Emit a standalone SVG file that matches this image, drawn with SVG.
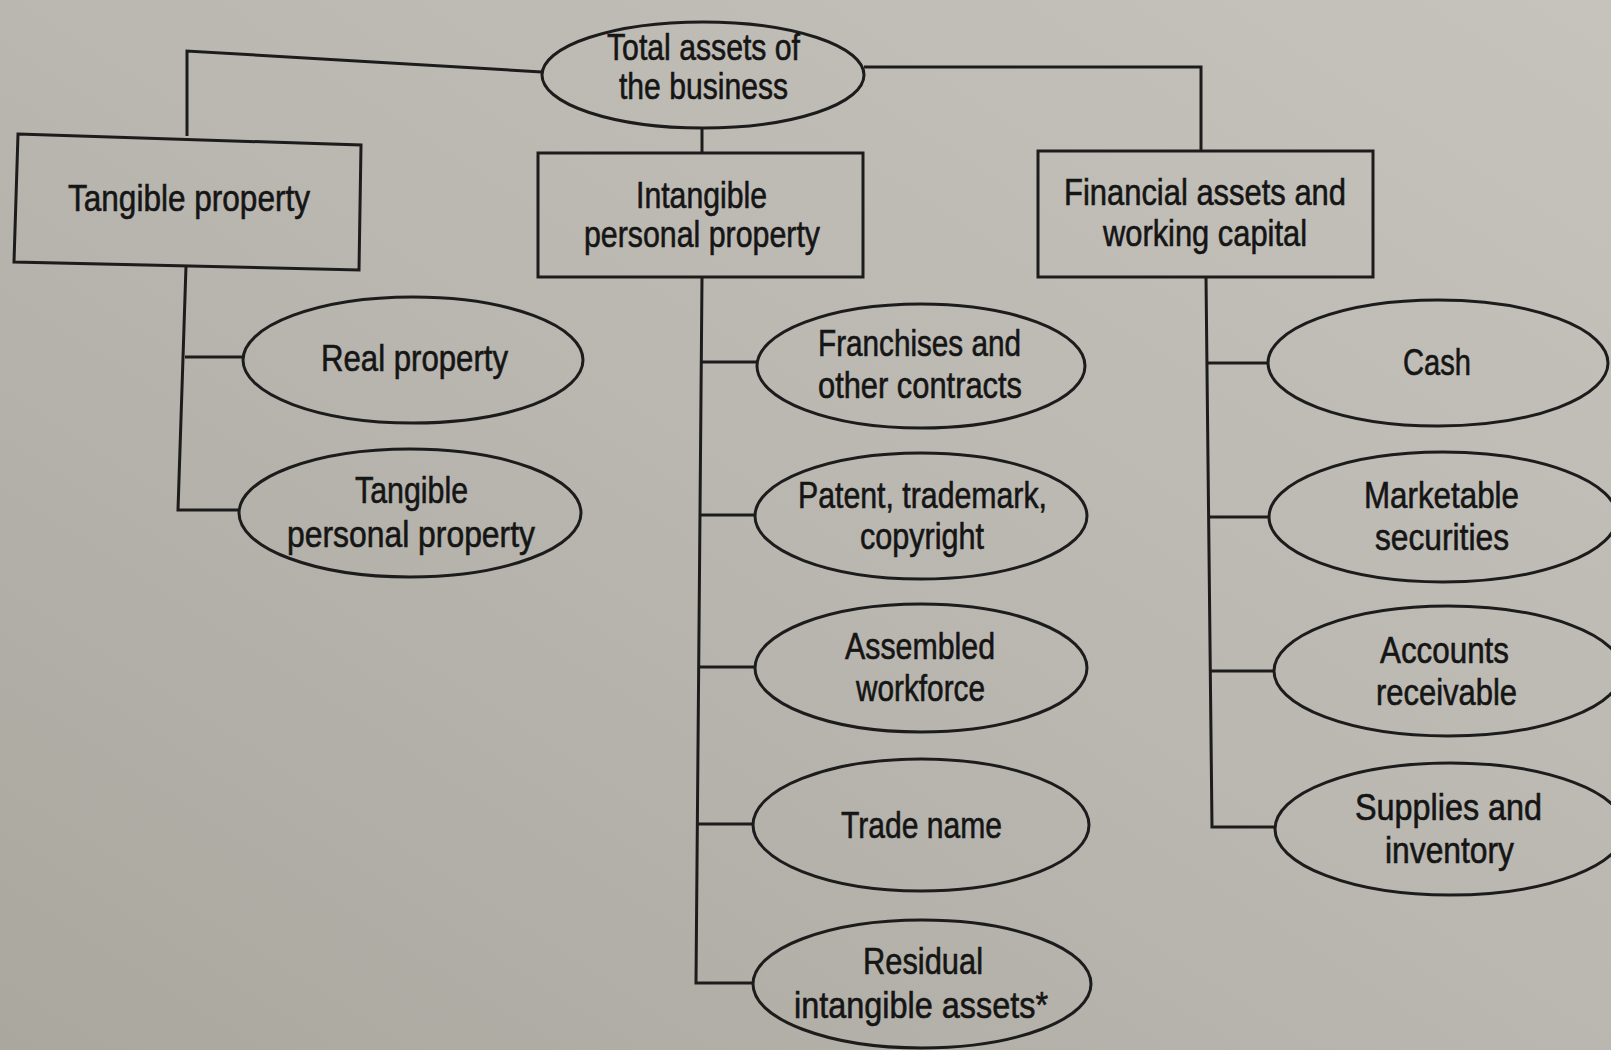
<svg xmlns="http://www.w3.org/2000/svg" width="1611" height="1050" viewBox="0 0 1611 1050">
  <defs>
    <linearGradient id="paper" x1="1" y1="0" x2="0" y2="1">
      <stop offset="0" stop-color="#c6c3bc"/>
      <stop offset="0.5" stop-color="#bab7b0"/>
      <stop offset="1" stop-color="#aaa79f"/>
    </linearGradient>
  </defs>
  <style>
    .shape { fill: none; stroke: #1c1c1c; stroke-width: 3; }
    .conn { fill: none; stroke: #1c1c1c; stroke-width: 3; stroke-linejoin: miter; }
    .lbl { font-family: "Liberation Sans Narrow", "Liberation Sans", Arial, sans-serif; font-size: 36px; fill: #151515; stroke: #151515; stroke-width: 0.6px; }
  </style>
  <rect x="0" y="0" width="1611" height="1050" fill="url(#paper)"/>

  <g id="connectors">
    <polyline class="conn" points="542,72 187,51 187,136"/>
    <polyline class="conn" points="864,67 1201,67 1201,152"/>
    <line class="conn" x1="702" y1="129" x2="702" y2="154"/>
    <polyline class="conn" points="186,266 178,510 239,510"/>
    <line class="conn" x1="185" y1="357" x2="243" y2="357"/>
    <polyline class="conn" points="702,278 696,983 753,983"/>
    <line class="conn" x1="701" y1="362" x2="757" y2="362"/>
    <line class="conn" x1="700" y1="515" x2="755" y2="515"/>
    <line class="conn" x1="699" y1="667" x2="755" y2="667"/>
    <line class="conn" x1="698" y1="824" x2="753" y2="824"/>
    <polyline class="conn" points="1206,277 1212,827 1276,827"/>
    <line class="conn" x1="1207" y1="363" x2="1268" y2="363"/>
    <line class="conn" x1="1209" y1="517" x2="1269" y2="517"/>
    <line class="conn" x1="1210" y1="671" x2="1274" y2="671"/>
  </g>

  <g id="total-assets">
    <ellipse class="shape" cx="703" cy="75" rx="161" ry="53"/>
    <text class="lbl" x="607" y="60" textLength="193" lengthAdjust="spacingAndGlyphs">Total assets of</text>
    <text class="lbl" x="619" y="99" textLength="169" lengthAdjust="spacingAndGlyphs">the business</text>
  </g>

  <g id="tangible-property">
    <polygon class="shape" points="18,134 361,145 359,270 14,262"/>
    <text class="lbl" x="68" y="211" textLength="242" lengthAdjust="spacingAndGlyphs">Tangible property</text>
  </g>

  <g id="intangible-personal-property">
    <rect class="shape" x="538" y="153" width="325" height="124"/>
    <text class="lbl" x="636" y="208" textLength="131" lengthAdjust="spacingAndGlyphs">Intangible</text>
    <text class="lbl" x="584" y="247" textLength="236" lengthAdjust="spacingAndGlyphs">personal property</text>
  </g>

  <g id="financial-assets">
    <rect class="shape" x="1038" y="151" width="335" height="126"/>
    <text class="lbl" x="1064" y="205" textLength="282" lengthAdjust="spacingAndGlyphs">Financial assets and</text>
    <text class="lbl" x="1103" y="246" textLength="204" lengthAdjust="spacingAndGlyphs">working capital</text>
  </g>

  <g id="real-property">
    <ellipse class="shape" cx="413" cy="360" rx="170" ry="63"/>
    <text class="lbl" x="321" y="371" textLength="187" lengthAdjust="spacingAndGlyphs">Real property</text>
  </g>

  <g id="tangible-personal-property">
    <ellipse class="shape" cx="410" cy="513" rx="171" ry="64"/>
    <text class="lbl" x="355" y="503" textLength="113" lengthAdjust="spacingAndGlyphs">Tangible</text>
    <text class="lbl" x="287" y="547" textLength="248" lengthAdjust="spacingAndGlyphs">personal property</text>
  </g>

  <g id="franchises">
    <ellipse class="shape" cx="921" cy="366" rx="164" ry="62"/>
    <text class="lbl" x="818" y="356" textLength="203" lengthAdjust="spacingAndGlyphs">Franchises and</text>
    <text class="lbl" x="818" y="398" textLength="204" lengthAdjust="spacingAndGlyphs">other contracts</text>
  </g>

  <g id="patent">
    <ellipse class="shape" cx="921" cy="516" rx="166" ry="63"/>
    <text class="lbl" x="798" y="508" textLength="249" lengthAdjust="spacingAndGlyphs">Patent, trademark,</text>
    <text class="lbl" x="860" y="549" textLength="124" lengthAdjust="spacingAndGlyphs">copyright</text>
  </g>

  <g id="assembled-workforce">
    <ellipse class="shape" cx="921" cy="668" rx="166" ry="64"/>
    <text class="lbl" x="845" y="659" textLength="150" lengthAdjust="spacingAndGlyphs">Assembled</text>
    <text class="lbl" x="856" y="701" textLength="129" lengthAdjust="spacingAndGlyphs">workforce</text>
  </g>

  <g id="trade-name">
    <ellipse class="shape" cx="921" cy="825" rx="168" ry="66"/>
    <text class="lbl" x="841" y="838" textLength="161" lengthAdjust="spacingAndGlyphs">Trade name</text>
  </g>

  <g id="residual">
    <ellipse class="shape" cx="922" cy="984" rx="169" ry="64"/>
    <text class="lbl" x="863" y="974" textLength="120" lengthAdjust="spacingAndGlyphs">Residual</text>
    <text class="lbl" x="794" y="1018" textLength="254" lengthAdjust="spacingAndGlyphs">intangible assets*</text>
  </g>

  <g id="cash">
    <ellipse class="shape" cx="1438" cy="363" rx="170" ry="63"/>
    <text class="lbl" x="1403" y="375" textLength="68" lengthAdjust="spacingAndGlyphs">Cash</text>
  </g>

  <g id="marketable-securities">
    <ellipse class="shape" cx="1443" cy="517" rx="174" ry="65"/>
    <text class="lbl" x="1364" y="508" textLength="155" lengthAdjust="spacingAndGlyphs">Marketable</text>
    <text class="lbl" x="1375" y="550" textLength="134" lengthAdjust="spacingAndGlyphs">securities</text>
  </g>

  <g id="accounts-receivable">
    <ellipse class="shape" cx="1448" cy="671" rx="174" ry="65"/>
    <text class="lbl" x="1380" y="663" textLength="129" lengthAdjust="spacingAndGlyphs">Accounts</text>
    <text class="lbl" x="1376" y="705" textLength="141" lengthAdjust="spacingAndGlyphs">receivable</text>
  </g>

  <g id="supplies-inventory">
    <ellipse class="shape" cx="1450" cy="829" rx="175" ry="66"/>
    <text class="lbl" x="1355" y="820" textLength="187" lengthAdjust="spacingAndGlyphs">Supplies and</text>
    <text class="lbl" x="1385" y="863" textLength="129" lengthAdjust="spacingAndGlyphs">inventory</text>
  </g>
</svg>
